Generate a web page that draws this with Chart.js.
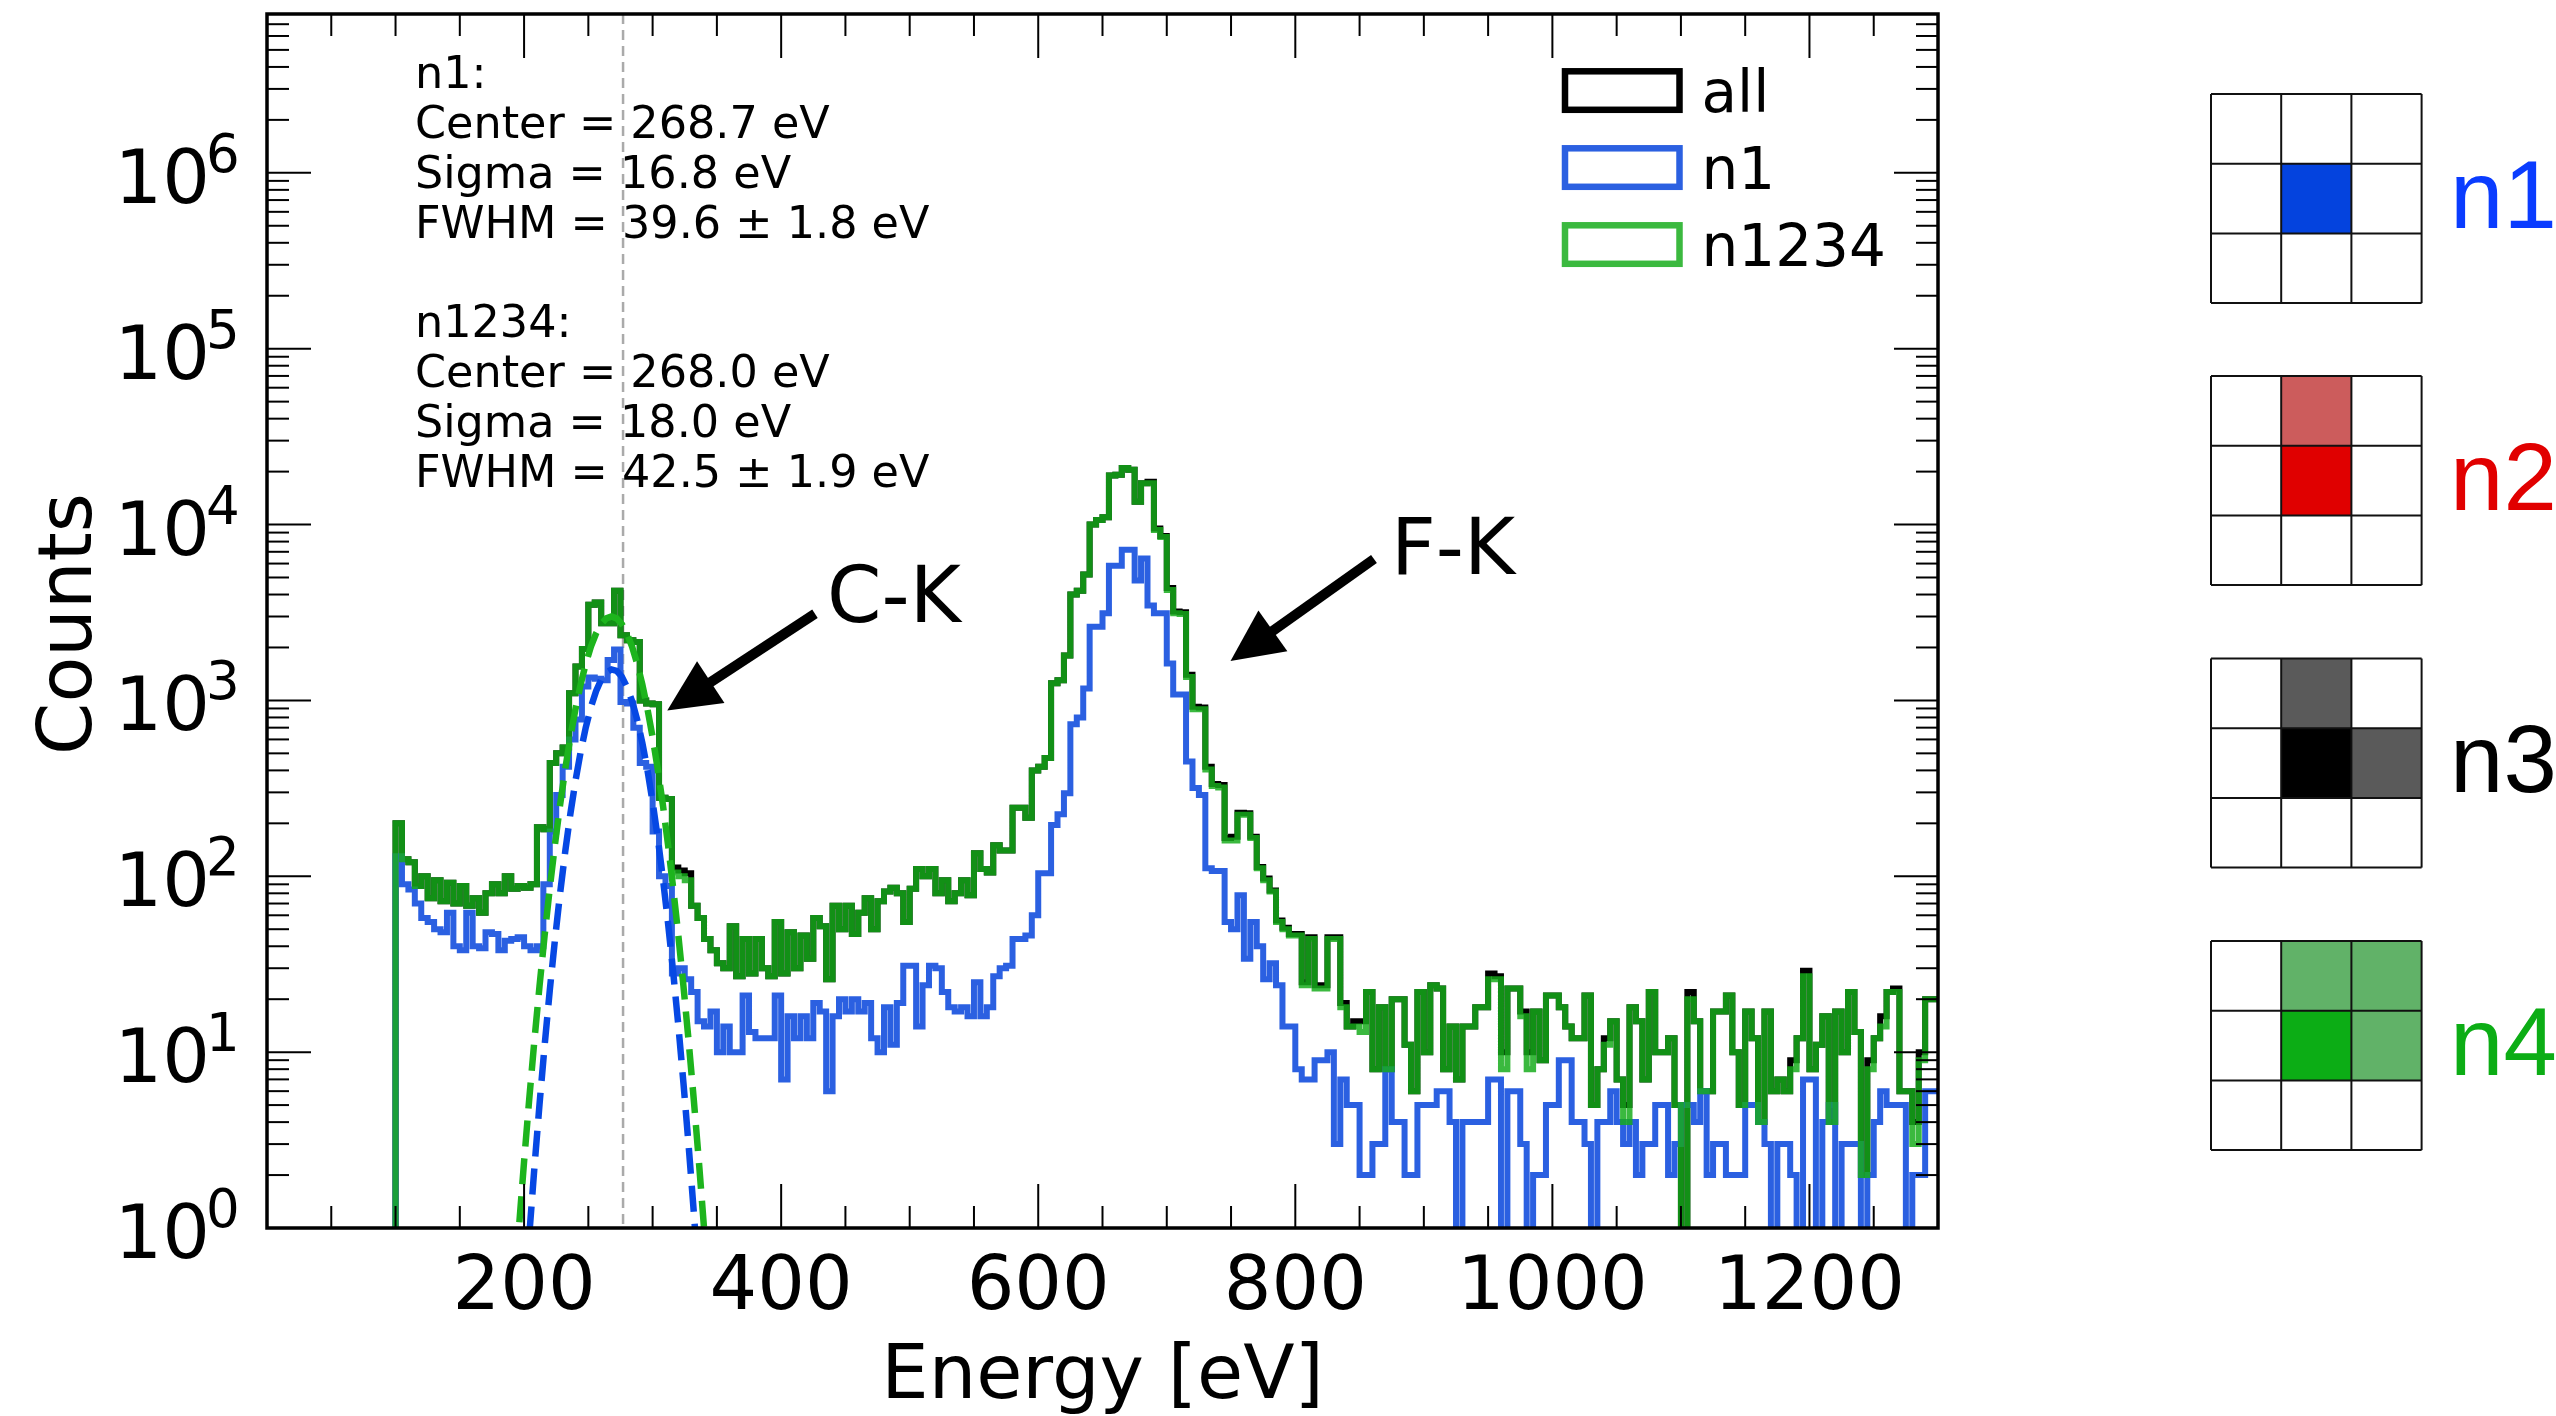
<!DOCTYPE html>
<html><head><meta charset="utf-8">
<script src="https://cdn.jsdelivr.net/npm/chart.js"></script>
<style>html,body{margin:0;padding:0;background:#fff;overflow:hidden}canvas{display:block}</style>
</head><body>
<canvas id="c" width="2556" height="1416"></canvas>
<script>
// ---- bin edges (eV), 5 eV bins ----
const binEdges = [
100,105,110,115,120,125,130,135,140,145,
150,155,160,165,170,175,180,185,190,195,
200,205,210,215,220,225,230,235,240,245,
250,255,260,265,270,275,280,285,290,295,
300,305,310,315,320,325,330,335,340,345,
350,355,360,365,370,375,380,385,390,395,
400,405,410,415,420,425,430,435,440,445,
450,455,460,465,470,475,480,485,490,495,
500,505,510,515,520,525,530,535,540,545,
550,555,560,565,570,575,580,585,590,595,
600,605,610,615,620,625,630,635,640,645,
650,655,660,665,670,675,680,685,690,695,
700,705,710,715,720,725,730,735,740,745,
750,755,760,765,770,775,780,785,790,795,
800,805,810,815,820,825,830,835,840,845,
850,855,860,865,870,875,880,885,890,895,
900,905,910,915,920,925,930,935,940,945,
950,955,960,965,970,975,980,985,990,995,
1000,1005,1010,1015,1020,1025,1030,1035,1040,1045,
1050,1055,1060,1065,1070,1075,1080,1085,1090,1095,
1100,1105,1110,1115,1120,1125,1130,1135,1140,1145,
1150,1155,1160,1165,1170,1175,1180,1185,1190,1195,
1200,1205,1210,1215,1220,1225,1230,1235,1240,1245,
1250,1255,1260,1265,1270,1275,1280,1285,1290,1295,
1300];

// ---- counts per bin ----
const countsAll = [
200,125,120,88,100,75,95,72,92,70,
88,68,75,62,80,90,80,100,85,88,
86,90,190,185,440,500,540,1100,1560,1960,
3500,3600,2750,2750,4200,2350,2200,2150,1000,960,
950,280,275,112,108,104,68,58,44,38,
32,30,52,27,44,28,44,30,27,55,
28,48,30,46,34,58,52,26,68,50,
68,47,62,75,50,72,82,86,80,55,
85,110,100,110,80,95,72,80,95,78,
135,110,105,150,140,140,245,245,215,400,
420,470,1250,1300,1800,4000,4200,5200,10000,10600,
11000,19000,19200,21000,20500,13500,17200,17500,9500,8600,
4350,3200,3170,1400,920,910,420,335,330,165,
168,230,228,168,113,97,83,56,51,47,
47,25,45,24,24,45,45,19,14,15,
15,22,8,18,8,20,20,11,6,22,
10,24,23,8,14,7,14,14,18,18,
28,27,10,23,23,17,10,17,9,21,
21,18,14,12,12,21,5,8,12,15,
7,5,18,15,7,22,10,10,12,5,
0,22,15,6,6,17,17,21,10,5,
17,12,4,17,6,7,6,9,12,29,
8,11,16,4,17,10,22,13,2,9,
12,16,22,23,6,6,4,10,20,20];

const countsN1 = [
130,90,84,70,58,55,50,48,62,40,
38,62,40,39,48,47,38,43,44,45,
40,38,40,90,180,290,420,600,780,1200,
1350,1330,1300,1700,1950,980,960,700,440,420,
180,100,88,28,30,26,22,15,14,17,
10,14,10,10,21,13,12,12,12,21,
7,16,12,16,12,19,17,6,16,20,
17,20,17,19,12,10,18,11,19,31,
31,14,24,31,30,22,18,17,18,16,
25,16,18,27,30,31,44,44,46,60,
104,104,196,225,297,732,800,1170,2620,2620,
3130,5840,5840,7200,7200,4800,6420,3470,3130,3130,
1620,1080,1080,450,318,290,111,107,107,55,
50,78,34,55,40,26,32,24,14,14,
8,7,7,9,9,10,3,7,5,5,
2,2,3,3,8,4,4,2,2,5,
5,5,6,6,4,0,4,4,4,4,
7,7,0,6,6,3,0,2,2,5,
5,9,9,4,4,3,0,4,4,6,
4,3,4,2,3,3,5,5,2,3,
5,5,4,6,2,3,3,2,2,2,
5,5,4,3,0,3,3,2,0,7,
7,0,4,5,0,3,3,3,0,2,
4,6,5,5,5,0,2,2,6,6];

const countsN1234 = [
200,125,120,88,100,75,95,72,92,70,
88,68,75,62,80,90,80,100,85,88,
86,90,190,185,440,500,540,1100,1560,1960,
3500,3600,2750,2750,4200,2350,2200,2150,1000,960,
950,280,275,105,100,95,68,58,44,38,
32,30,52,27,44,28,44,30,27,55,
28,48,30,46,34,58,52,26,68,50,
68,47,62,75,50,72,82,86,80,55,
85,110,100,110,80,95,72,80,95,78,
135,110,105,150,140,140,245,245,215,400,
420,470,1250,1300,1800,4000,4200,5200,10000,10600,
11000,19000,19200,21000,20500,13500,17200,17200,9300,8500,
4240,3130,3100,1360,890,890,405,326,320,160,
160,224,224,165,111,95,82,55,50,46,
46,24,44,23,23,44,44,18,14,14,
13,22,8,18,8,20,20,11,6,22,
10,24,23,8,14,7,14,14,18,18,
26,26,8,23,23,16,8,17,9,21,
21,18,14,12,12,21,5,8,11,15,
7,4,18,15,7,22,10,10,12,5,
0,20,15,6,6,17,17,21,10,5,
17,12,4,17,6,7,6,8,12,27,
8,11,16,4,17,10,22,13,2,8,
12,14,22,22,6,6,3,9,20,20];

// ---- Gaussian fit curves ----
const fitN1Energy = [200,204,208,212,216,220,224,228,232,236,240,244,248,252,256,260,264,268,272,276,280,284,288,292,296,300,304,308,312,316,320,324,328,332,336,340];
const fitN1Counts = [0.35,0.90,2.19,5.04,10.95,22.5,43.5,79.8,138,226,349,509,702,915,1127,1312,1442,1499,1471,1365,1196,991,775,573,401,264,165,97.2,54.1,28.5,14.2,6.66,2.96,1.24,0.49,0.18];
const fitN1234Energy = [192,196,200,204,208,212,216,220,224,228,232,236,240,244,248,252,256,260,264,268,272,276,280,284,288,292,296,300,304,308,312,316,320,324,328,332,336,340,344];
const fitN1234Counts = [0.40,1.0,2.39,5.4,11.6,23.7,46.2,85.7,151,254,406,618,894,1233,1618,2021,2402,2718,2927,3000,2927,2718,2402,2021,1618,1233,894,618,406,254,151,85.7,46.2,23.7,11.6,5.4,2.39,1.0,0.40];

// ---- ticks and labels ----
const xMajorTicks = [200,400,600,800,1000,1200];
const xTickLabels = ['200','400','600','800','1000','1200'];
const xMinorTicks = [50,100,150,250,300,350,450,500,550,650,700,750,850,900,950,1050,1100,1150,1250];
const yDecadeExponents = [0,1,2,3,4,5,6];
const yMinorMultipliers = [2,3,4,5,6,7,8,9];
const cKLineEnergy = 277;
const fitTextLines = ['n1:','Center = 268.7 eV','Sigma = 16.8 eV','FWHM = 39.6 \u00b1 1.8 eV','','n1234:','Center = 268.0 eV','Sigma = 18.0 eV','FWHM = 42.5 \u00b1 1.9 eV'];
const legendLabels = ['all','n1','n1234'];
const peakLabels = ['C-K','F-K'];
const pixelLabels = ['n1','n2','n3','n4'];

const COL_ALL = '#000000';
const COL_N1 = 'rgb(43,96,225)';
const COL_N1234 = 'rgba(21,172,26,0.84)';
const EMPTY = 0.1; // empty bin: drawn below the log axis and clipped

function histPoints(counts){
  const pts = [{x: binEdges[0], y: EMPTY}];
  for (let i = 0; i < counts.length; i++) pts.push({x: binEdges[i], y: counts[i] > 0 ? counts[i] : EMPTY});
  const last = counts[counts.length-1];
  pts.push({x: binEdges[binEdges.length-1], y: last > 0 ? last : EMPTY});
  return pts;
}
function curvePoints(es, vs){ return es.map((e,i)=>({x:e, y:vs[i]})); }

const FONT = '"DejaVu Sans", sans-serif';
function txt(ctx, s, x, y, size, align, color, family){
  ctx.font = size + 'px ' + (family || FONT);
  ctx.textAlign = align || 'left';
  ctx.textBaseline = 'alphabetic';
  ctx.fillStyle = color || '#000';
  ctx.fillText(s, x, y);
}

const decor = {
  id: 'decor',
  beforeDraw(chart){
    const ctx = chart.ctx;
    ctx.save(); ctx.fillStyle = '#fff'; ctx.fillRect(0,0,chart.width,chart.height); ctx.restore();
  },
  beforeDatasetsDraw(chart){
    const {ctx, chartArea:a, scales:{x}} = chart;
    const px = x.getPixelForValue(cKLineEnergy);
    ctx.save();
    ctx.strokeStyle = 'rgb(170,170,170)'; ctx.lineWidth = 2.5; ctx.setLineDash([10,6]);
    ctx.beginPath(); ctx.moveTo(px, a.top); ctx.lineTo(px, a.bottom); ctx.stroke();
    ctx.restore();
  },
  afterDraw(chart){
    const {ctx, chartArea:a, scales:{x, y}} = chart;
    ctx.save();
    // frame
    ctx.strokeStyle = '#000'; ctx.lineWidth = 3.5; ctx.setLineDash([]);
    ctx.strokeRect(a.left, a.top, a.right-a.left, a.bottom-a.top);
    // inward ticks on all four sides
    ctx.lineWidth = 2;
    const seg = (x1,y1,x2,y2)=>{ctx.beginPath();ctx.moveTo(x1,y1);ctx.lineTo(x2,y2);ctx.stroke();};
    xMajorTicks.forEach(v=>{const p=x.getPixelForValue(v); seg(p,a.bottom,p,a.bottom-44); seg(p,a.top,p,a.top+44);});
    xMinorTicks.forEach(v=>{const p=x.getPixelForValue(v); seg(p,a.bottom,p,a.bottom-22); seg(p,a.top,p,a.top+22);});
    yDecadeExponents.forEach(k=>{
      const p = y.getPixelForValue(Math.pow(10,k));
      seg(a.left,p,a.left+44,p); seg(a.right,p,a.right-44,p);
      yMinorMultipliers.forEach(m=>{
        const v = m*Math.pow(10,k);
        if (v < y.max){ const q=y.getPixelForValue(v); seg(a.left,q,a.left+22,q); seg(a.right,q,a.right-22,q); }
      });
    });
    // tick labels
    xMajorTicks.forEach((v,i)=>txt(ctx, xTickLabels[i], x.getPixelForValue(v), a.bottom+81, 75, 'center'));
    yDecadeExponents.forEach(k=>{
      const p = y.getPixelForValue(Math.pow(10,k));
      txt(ctx, '10', a.left-57, p+30, 75, 'right');
      txt(ctx, String(k), a.left-61, p-1, 53, 'left');
    });
    // axis titles
    txt(ctx, 'Energy [eV]', (a.left+a.right)/2, a.bottom+170, 75, 'center');
    ctx.save(); ctx.translate(91, (a.top+a.bottom)/2+3); ctx.rotate(-Math.PI/2);
    txt(ctx, 'Counts', 0, 0, 75, 'center'); ctx.restore();
    // fit results text
    fitTextLines.forEach((s,i)=>{ if(s) txt(ctx, s, a.left+148, a.top+74+49.85*i, 44.5, 'left'); });
    // legend
    const legCols = [COL_ALL, COL_N1, COL_N1234];
    legendLabels.forEach((s,i)=>{
      const top = 71.3 + 77*i;
      ctx.strokeStyle = legCols[i]; ctx.lineWidth = 6.5;
      ctx.strokeRect(1565, top, 114.5, 38.5);
      txt(ctx, s, 1701.5, 111.5 + 77*i, 58, 'left');
    });
    // arrows + peak labels (data coordinates)
    const arrow = (tipE, tipV, tailE, tailV)=>{
      const tx=x.getPixelForValue(tipE), ty=y.getPixelForValue(tipV);
      const sx=x.getPixelForValue(tailE), sy=y.getPixelForValue(tailV);
      const dx=tx-sx, dy=ty-sy, L=Math.hypot(dx,dy), ux=dx/L, uy=dy/L;
      const hl=52, hw=25;
      const bx=tx-ux*hl, by=ty-uy*hl;
      ctx.strokeStyle='#000'; ctx.lineWidth=10; ctx.lineCap='butt';
      ctx.beginPath(); ctx.moveTo(sx,sy); ctx.lineTo(bx+ux*4,by+uy*4); ctx.stroke();
      ctx.fillStyle='#000'; ctx.beginPath();
      ctx.moveTo(tx,ty); ctx.lineTo(bx-uy*hw,by+ux*hw); ctx.lineTo(bx+uy*hw,by-ux*hw); ctx.closePath(); ctx.fill();
    };
    arrow(311.4, 875, 426.3, 3110);
    txt(ctx, peakLabels[0], x.getPixelForValue(435.7), y.getPixelForValue(2790), 78, 'left');
    arrow(749.6, 1675, 861.2, 6370);
    txt(ctx, peakLabels[1], x.getPixelForValue(874.4), y.getPixelForValue(5230), 78, 'left');
    // pixel maps on the right
    const grids = [
      {y0:94, label:'n1', lc:'rgb(10,60,255)', cells:[[1,1,'rgb(4,67,222)']]},
      {y0:376, label:'n2', lc:'rgb(225,0,0)', cells:[[0,1,'rgb(204,92,92)'],[1,1,'rgb(224,0,0)']]},
      {y0:658.5, label:'n3', lc:'#000', cells:[[0,1,'rgb(90,90,90)'],[1,1,'#000'],[1,2,'rgb(90,90,90)']]},
      {y0:941, label:'n4', lc:'rgb(12,173,21)', cells:[[0,1,'rgb(97,178,104)'],[0,2,'rgb(97,178,104)'],[1,1,'rgb(12,173,21)'],[1,2,'rgb(97,178,104)']]}
    ];
    const gx=2211, cw=70.2, ch=69.7;
    grids.forEach(g=>{
      g.cells.forEach(c=>{ ctx.fillStyle=c[2]; ctx.fillRect(gx+c[1]*cw, g.y0+c[0]*ch, cw, ch); });
      ctx.strokeStyle='#111'; ctx.lineWidth=2;
      for(let i=0;i<=3;i++){ seg(gx+i*cw, g.y0, gx+i*cw, g.y0+3*ch); seg(gx, g.y0+i*ch, gx+3*cw, g.y0+i*ch); }
      txt(ctx, g.label, 2450, g.y0+1.5*ch+29, 96, 'left', g.lc, '"Liberation Sans", Arial, sans-serif');
    });
    ctx.restore();
  }
};

const histStyle = {borderWidth:6, stepped:true, pointRadius:0, fill:false, clip:0, borderJoinStyle:'miter'};
const fitStyle = {borderWidth:6.5, borderDash:[26,12], pointRadius:0, fill:false, clip:0, tension:0};

new Chart(document.getElementById('c'), {
  type: 'line',
  data: { datasets: [
    Object.assign({label:'n1 fit', data: curvePoints(fitN1Energy, fitN1Counts), borderColor:'rgb(6,72,228)', order:1}, fitStyle),
    Object.assign({label:'n1234 fit', data: curvePoints(fitN1234Energy, fitN1234Counts), borderColor:'rgb(29,180,29)', order:2}, fitStyle),
    Object.assign({label:'n1234', data: histPoints(countsN1234), borderColor:COL_N1234, order:3}, histStyle),
    Object.assign({label:'n1', data: histPoints(countsN1), borderColor:COL_N1, order:4}, histStyle),
    Object.assign({label:'all', data: histPoints(countsAll), borderColor:COL_ALL, order:5}, histStyle)
  ]},
  options: {
    responsive:false, animation:false, devicePixelRatio:1,
    layout:{padding:{left:267, top:14, right:618, bottom:188}},
    scales:{
      x:{type:'linear', min:0, max:1300, display:false},
      y:{type:'logarithmic', min:1, max:8e6, display:false}
    },
    plugins:{legend:{display:false}, tooltip:{enabled:false}},
    elements:{point:{radius:0}}
  },
  plugins:[decor]
});
</script>
</body></html>
